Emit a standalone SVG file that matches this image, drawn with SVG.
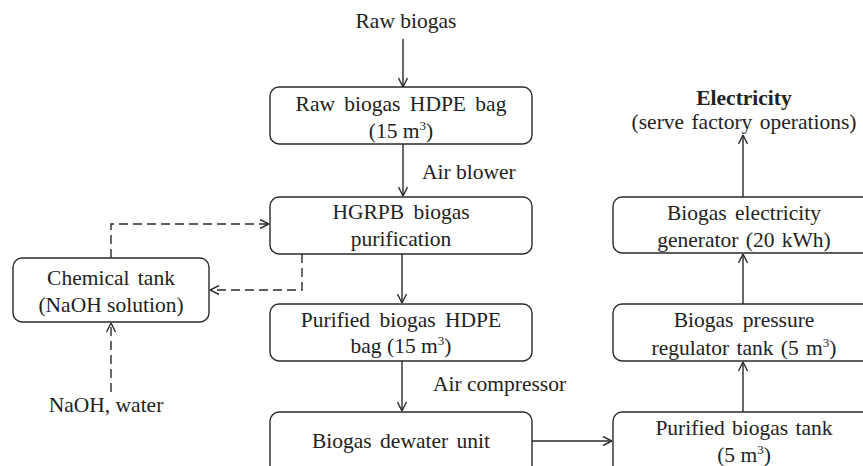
<svg xmlns="http://www.w3.org/2000/svg" width="863" height="466" viewBox="0 0 863 466">
<defs>
<marker id="ah" viewBox="0 0 10 10" refX="10" refY="5" markerWidth="10" markerHeight="10" markerUnits="userSpaceOnUse" orient="auto">
<path d="M1,0.5 L10,5 L1,9.5" fill="none" stroke="#2a2a2a" stroke-width="1.4"/>
</marker>
<style>
.box{fill:#fff;stroke:#2a2a2a;stroke-width:1.4}
.t{font-family:"Liberation Serif","Times New Roman",serif;font-size:21.5px;fill:#222;text-anchor:middle}
.l{font-family:"Liberation Serif","Times New Roman",serif;font-size:21.5px;fill:#222}
.c{fill:none;stroke:#2a2a2a;stroke-width:1.4}
.d{fill:none;stroke:#2a2a2a;stroke-width:1.4;stroke-dasharray:9,5}
</style>
</defs>
<rect width="863" height="466" fill="#fff"/>
<g id="connectors">
<line class="c" x1="403" y1="39" x2="403" y2="87" marker-end="url(#ah)"/>
<line class="c" x1="403" y1="144" x2="403" y2="196" marker-end="url(#ah)"/>
<line class="c" x1="402" y1="254" x2="402" y2="303" marker-end="url(#ah)"/>
<line class="c" x1="402" y1="361" x2="402" y2="411" marker-end="url(#ah)"/>
<line class="c" x1="532" y1="441" x2="612" y2="441" marker-end="url(#ah)"/>
<line class="c" x1="743" y1="412" x2="743" y2="362" marker-end="url(#ah)"/>
<line class="c" x1="743" y1="304" x2="743" y2="254" marker-end="url(#ah)"/>
<line class="c" x1="743" y1="197" x2="743" y2="135" marker-end="url(#ah)"/>
<path class="d" d="M111,258 V224 H269" marker-end="url(#ah)"/>
<path class="d" d="M302,254 V290 H210" marker-end="url(#ah)"/>
<line class="d" x1="111" y1="392" x2="111" y2="323" marker-end="url(#ah)"/>
</g>
<g id="raw-biogas-label"><text class="t" x="406" y="28">Raw biogas</text></g>
<g id="raw-bag">
<rect class="box" x="270" y="87" width="262" height="57" rx="9"/>
<text class="t" x="401" y="111" word-spacing="4">Raw  biogas HDPE bag</text>
<text class="t" x="401" y="138">(15 m<tspan font-size="13" dy="-8">3</tspan><tspan dy="8">)</tspan></text>
</g>
<g id="air-blower"><text class="l" x="422" y="179">Air blower</text></g>
<g id="hgrpb">
<rect class="box" x="270" y="197" width="262" height="57" rx="9"/>
<text class="t" x="401" y="219" word-spacing="4">HGRPB biogas</text>
<text class="t" x="401" y="246">purification</text>
</g>
<g id="chemical-tank">
<rect class="box" x="13" y="258" width="196" height="64" rx="9"/>
<text class="t" x="111" y="285" word-spacing="3">Chemical tank</text>
<text class="t" x="111" y="312">(NaOH solution)</text>
</g>
<g id="naoh-label"><text class="t" x="106" y="412">NaOH, water</text></g>
<g id="purified-bag">
<rect class="box" x="270" y="304" width="262" height="57" rx="9"/>
<text class="t" x="401" y="327" word-spacing="4">Purified  biogas HDPE</text>
<text class="t" x="401" y="353">bag (15 m<tspan font-size="13" dy="-8">3</tspan><tspan dy="8">)</tspan></text>
</g>
<g id="air-compressor"><text class="l" x="433" y="391">Air compressor</text></g>
<g id="dewater">
<rect class="box" x="270" y="412" width="262" height="70" rx="9"/>
<text class="t" x="401" y="448" word-spacing="3">Biogas dewater unit</text>
</g>
<g id="purified-tank">
<rect class="box" x="613" y="412" width="262" height="70" rx="9"/>
<text class="t" x="744" y="435" word-spacing="2">Purified biogas tank</text>
<text class="t" x="744" y="462">(5 m<tspan font-size="13" dy="-8">3</tspan><tspan dy="8">)</tspan></text>
</g>
<g id="regulator">
<rect class="box" x="613" y="304" width="262" height="57" rx="9"/>
<text class="t" x="744" y="327" word-spacing="4">Biogas pressure</text>
<text class="t" x="744" y="355" word-spacing="2">regulator tank (5 m<tspan font-size="13" dy="-8">3</tspan><tspan dy="8">)</tspan></text>
</g>
<g id="generator">
<rect class="box" x="613" y="197" width="262" height="56" rx="9"/>
<text class="t" x="744" y="220" word-spacing="3">Biogas electricity</text>
<text class="t" x="744" y="247" word-spacing="2">generator (20 kWh)</text>
</g>
<g id="electricity">
<text class="t" x="744" y="105" font-weight="bold">Electricity</text>
<text class="t" x="744" y="129" word-spacing="2">(serve factory operations)</text>
</g>
</svg>
